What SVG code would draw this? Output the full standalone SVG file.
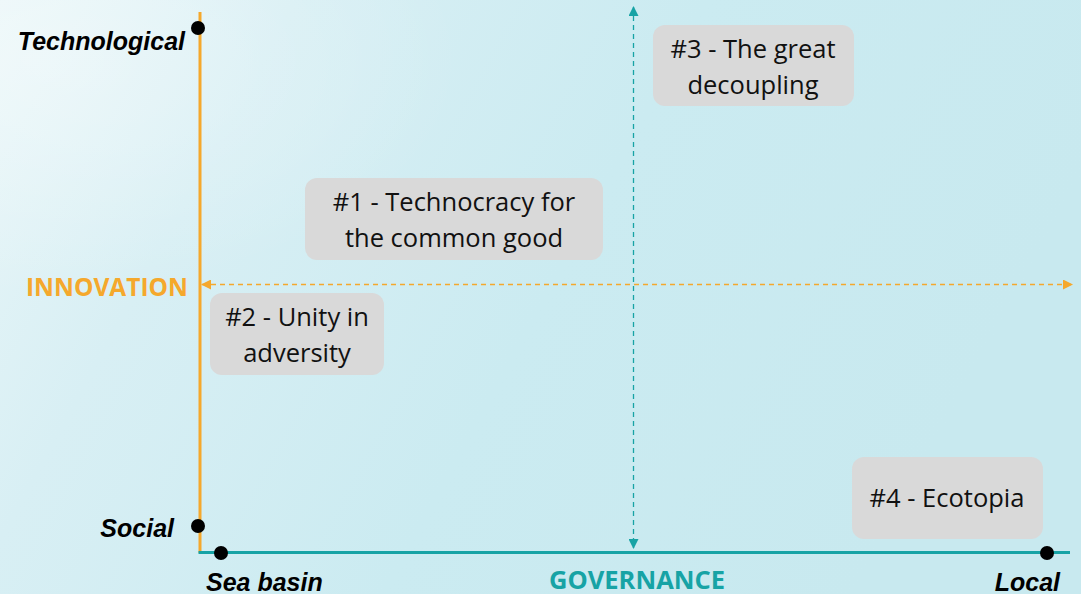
<svg xmlns="http://www.w3.org/2000/svg" width="1081" height="594" viewBox="0 0 1081 594">
  <defs>
    <linearGradient id="bg" x1="0" y1="0" x2="1" y2="0.3">
      <stop offset="0" stop-color="#e9f6f8"/>
      <stop offset="0.25" stop-color="#d8eff4"/>
      <stop offset="0.6" stop-color="#cbebf1"/>
      <stop offset="1" stop-color="#c8e9ef"/>
    </linearGradient>
    <radialGradient id="haze" cx="0.03" cy="0.1" r="0.4">
      <stop offset="0" stop-color="#ffffff" stop-opacity="0.35"/>
      <stop offset="1" stop-color="#ffffff" stop-opacity="0"/>
    </radialGradient>
    <marker id="arrOrange" viewBox="0 0 10 10" refX="9" refY="5" markerWidth="10" markerHeight="10" markerUnits="userSpaceOnUse" orient="auto-start-reverse">
      <path d="M0,0 L10,5 L0,10 Z" fill="#f5a82c"/>
    </marker>
    <marker id="arrTeal" viewBox="0 0 10 10" refX="9" refY="5" markerWidth="10" markerHeight="10" markerUnits="userSpaceOnUse" orient="auto-start-reverse">
      <path d="M0,0 L10,5 L0,10 Z" fill="#17a3a5"/>
    </marker>
  </defs>
  <style>
    .box { fill: #d9d9d9; }
    .boxText { font-family: "Open Sans", "Liberation Sans", sans-serif; font-size: 25.5px; fill: #111111; text-anchor: middle; }
    .pole { font-family: "Liberation Sans", Arial, sans-serif; font-size: 25px; font-weight: bold; font-style: italic; fill: #000000; }
    .axisName { font-family: "Open Sans", "Liberation Sans", sans-serif; font-weight: bold; }
    .dot { fill: #000000; }
  </style>

  <!-- background -->
  <rect x="0" y="0" width="1081" height="594" fill="url(#bg)"/>
  <rect x="0" y="0" width="1081" height="594" fill="url(#haze)"/>

  <!-- connectors: axes and dashed mid-lines -->
  <g id="connectors">
    <line x1="200" y1="12" x2="200" y2="553" stroke="#f5a82c" stroke-width="3"/>
    <line x1="198.5" y1="552.5" x2="1070" y2="552.5" stroke="#17a3a5" stroke-width="3"/>
    <line x1="202" y1="284.5" x2="1072" y2="284.5" stroke="#f5a82c" stroke-width="1.3" stroke-dasharray="5,4" marker-start="url(#arrOrange)" marker-end="url(#arrOrange)"/>
    <line x1="633.5" y1="7" x2="633.5" y2="548" stroke="#17a3a5" stroke-width="1.3" stroke-dasharray="5,4" marker-start="url(#arrTeal)" marker-end="url(#arrTeal)"/>
  </g>

  <!-- axis poles -->
  <g id="pole-technological">
    <circle class="dot" cx="198" cy="28" r="7"/>
    <text class="pole" x="185" y="50" text-anchor="end">Technological</text>
  </g>
  <g id="pole-social">
    <circle class="dot" cx="198" cy="526" r="7"/>
    <text class="pole" x="174" y="537" text-anchor="end">Social</text>
  </g>
  <g id="pole-sea-basin">
    <circle class="dot" cx="221" cy="553" r="7"/>
    <text class="pole" x="206" y="591">Sea basin</text>
  </g>
  <g id="pole-local">
    <circle class="dot" cx="1047" cy="553" r="7"/>
    <text class="pole" x="1060" y="591" text-anchor="end">Local</text>
  </g>

  <!-- axis names -->
  <g id="axis-innovation">
    <text class="axisName" x="188" y="296" font-size="24.5" text-anchor="end" fill="#f5a82c">INNOVATION</text>
  </g>
  <g id="axis-governance">
    <text class="axisName" x="637" y="589" font-size="25.5" text-anchor="middle" fill="#17a3a5">GOVERNANCE</text>
  </g>

  <!-- scenarios -->
  <g id="scenario-1">
    <rect class="box" x="305" y="178" width="298" height="82" rx="12"/>
    <text class="boxText" x="454" y="211">#1 - Technocracy for</text>
    <text class="boxText" x="454" y="247">the common good</text>
  </g>
  <g id="scenario-2">
    <rect class="box" x="210" y="293" width="174" height="82" rx="12"/>
    <text class="boxText" x="297" y="326">#2 - Unity in</text>
    <text class="boxText" x="297" y="362">adversity</text>
  </g>
  <g id="scenario-3">
    <rect class="box" x="653" y="25" width="201" height="81" rx="12"/>
    <text class="boxText" x="753" y="58">#3 - The great</text>
    <text class="boxText" x="753" y="94">decoupling</text>
  </g>
  <g id="scenario-4">
    <rect class="box" x="852" y="457" width="191" height="82" rx="12"/>
    <text class="boxText" x="947" y="507">#4 - Ecotopia</text>
  </g>
</svg>
